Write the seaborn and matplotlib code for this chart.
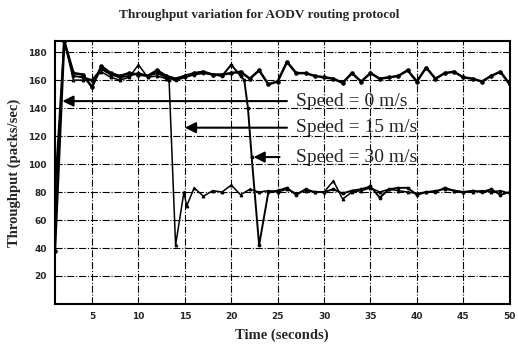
import matplotlib
matplotlib.use("Agg")
import matplotlib.pyplot as plt
import seaborn as sns
import pandas as pd

# ---- data ----
t_speed0 = list(range(1, 51))
v_speed0 = [38, 188, 165, 164, 155, 170, 165, 163, 165, 164,
            163, 167, 163, 161, 163, 165, 166, 164, 164, 165,
            166, 161, 167, 157, 159, 173, 165, 165, 163, 162,
            161, 158, 165, 159, 165, 161, 162, 163, 167, 159,
            169, 161, 165, 166, 162, 161, 159, 163, 166, 157]

t_speed15 = list(range(1, 14)) + [13.3, 14, 14.9, 15.2] + list(range(16, 51))
v_speed15 = [60, 188, 160, 160, 160, 166, 162, 160, 162, 171, 162, 163, 161,
             160, 42, 80, 70,
             83, 77, 81, 80, 85, 78, 82, 80,
             81, 80, 82, 79, 81, 80, 80, 88, 75, 80, 81, 83, 80, 82, 81, 80,
             79, 80, 81, 82, 81, 80, 80, 81, 80, 81, 79]

t_speed30 = list(range(1, 22)) + [21.4, 21.8, 22.2, 23] + list(range(24, 51))
v_speed30 = [80, 188, 163, 162, 160, 168, 164, 162, 163, 165, 163, 165, 162,
             160, 162, 164, 165, 164, 163, 171, 163,
             160, 140, 105, 42,
             80, 81, 83, 78, 82, 80, 80, 82, 79, 81, 82, 84, 76, 82, 83, 83,
             78, 80, 80, 83, 81, 80, 81, 80, 82, 78, 80]

x_ticks = [5, 10, 15, 20, 25, 30, 35, 40, 45, 50]
y_ticks = [20, 40, 60, 80, 100, 120, 140, 160, 180]

labels = ["Speed = 0 m/s", "Speed = 15 m/s", "Speed = 30 m/s"]

frames = []
for name, t, v in [("s0", t_speed0, v_speed0), ("s15", t_speed15, v_speed15),
                   ("s30", t_speed30, v_speed30)]:
    frames.append(pd.DataFrame({"time": t, "thr": v, "series": name}))
df = pd.concat(frames, ignore_index=True)

sns.set_style("white")
plt.rcParams['font.family'] = ['Liberation Serif', 'DejaVu Serif']

fig = plt.figure(figsize=(5.18, 3.47), dpi=100)
ax = fig.add_axes([0.106, 0.124, 0.878, 0.758])

styles = {"s0": dict(lw=1.8, marker="o", ms=2.5),
          "s15": dict(lw=1.1, marker="^", ms=2.0),
          "s30": dict(lw=1.4, marker="o", ms=2.0)}
for name in ["s15", "s30", "s0"]:
    sub = df[df.series == name]
    sns.lineplot(data=sub, x="time", y="thr", ax=ax, color="black",
                 markeredgecolor="black", estimator=None, sort=False,
                 legend=False, **styles[name])

ax.set_xlim(1, 50)
ax.set_ylim(0, 188)
ax.set_xticks(x_ticks)
ax.set_yticks(y_ticks)
ax.tick_params(direction="in", length=3, width=1, labelsize=6.5, pad=6)
for lab in ax.get_xticklabels() + ax.get_yticklabels():
    lab.set_fontweight("bold")
    lab.set_family("DejaVu Sans")
ax.grid(True, color="black", linestyle="-.", linewidth=0.8)
for s in ax.spines.values():
    s.set_visible(True)
    s.set_color("black")
    s.set_linewidth(1.5)

ax.set_xlabel("Time (seconds)", fontsize=10.5, fontweight="bold", labelpad=5)
ax.set_ylabel("Throughput (packs/sec)", fontsize=10.5, fontweight="bold", labelpad=5)
fig.suptitle("Throughput variation for AODV routing protocol", fontsize=9.5,
             fontweight="bold", y=0.975)

arrow = dict(arrowstyle="-|>", mutation_scale=16, lw=1.5, color="black",
             shrinkA=0, shrinkB=0)
ax.annotate("", xy=(1.8, 145), xytext=(26, 145), arrowprops=arrow)
ax.annotate("", xy=(15, 126), xytext=(26, 126), arrowprops=arrow)
ax.annotate("", xy=(22.4, 105), xytext=(25.2, 105), arrowprops=arrow)
for lab, y in zip(labels, [145, 126, 105]):
    ax.text(27, y, lab, fontsize=14, va="center", ha="left")

fig.savefig("out.png", dpi=100)
